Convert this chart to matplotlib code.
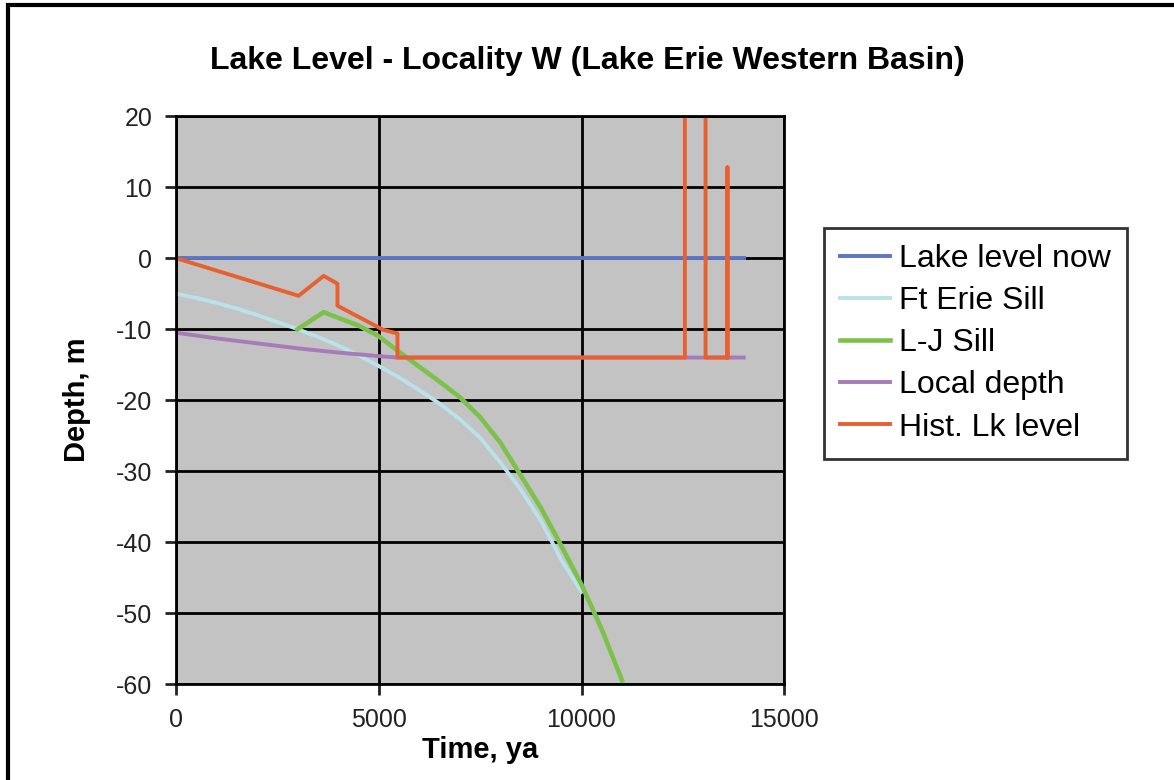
import matplotlib
matplotlib.use("Agg")
import matplotlib.pyplot as plt
import matplotlib.patches as pat

plt.rcParams['font.family'] = ['Liberation Sans', 'DejaVu Sans']
plt.rcParams['axes.unicode_minus'] = False

# data
now_x = [0, 14000]
now_y = [0, 0]

erie_x = [0, 500, 1000, 1500, 2000, 2500, 3000, 3500, 4000, 4500, 5000, 5500, 6000,
          6500, 7000, 7500, 8000, 8500, 9000, 9500, 10000]
erie_y = [-5, -5.6, -6.3, -7.1, -8, -9, -10, -11.1, -12.3, -13.7, -15.2, -16.8, -18.6,
          -20.5, -22.7, -25.3, -28.8, -32.6, -37, -42.5, -47]

lj_x = [3000, 3640, 4000, 4500, 5000, 5500, 6000, 6500, 7000, 7500, 8000, 8500,
        9000, 9500, 10000, 10500, 11000]
lj_y = [-10, -7.6, -8.4, -9.5, -11, -13.2, -15.3, -17.4, -19.6, -22.4, -26, -30.6,
        -35.2, -40.5, -46, -52.3, -59.5]

local_x = [0, 1000, 2000, 3000, 4000, 5000, 5450, 14000]
local_y = [-10.5, -11.3, -12, -12.7, -13.3, -13.8, -14, -14]

hist_x = [0, 3020, 3640, 3980, 3980, 5110, 5460, 5460, 12550, 12550, 13060, 13060, 13600, 13600, 13600]
hist_y = [0, -5.3, -2.5, -3.6, -6.7, -10.1, -10.6, -14, -14, 25, 25, -14, -14, 12.8, -14]

fig = plt.figure(figsize=(11.74, 7.80), dpi=100)
fig.patches.append(pat.Rectangle((0.007, -0.05), 1.05, 1.044, transform=fig.transFigure,
                                 fill=False, ec="k", lw=3))

ax = fig.add_axes([0.150, 0.123, 0.518, 0.728])
ax.set_facecolor("#c3c3c3")
ax.plot(now_x, now_y, color="#5b74c4", lw=2.8, label="Lake level now")
ax.plot(erie_x, erie_y, color="#b9e2ea", lw=2.8, label="Ft Erie Sill")
ax.plot(lj_x, lj_y, color="#7cc24a", lw=3.3, label="L-J Sill")
ax.plot(local_x, local_y, color="#a77ab8", lw=2.8, label="Local depth")
ax.plot(hist_x, hist_y, color="#e8602f", lw=2.8, label="Hist. Lk level")

ax.set_xlim(0, 15000)
ax.set_ylim(-60, 20)
ax.set_xticks([0, 5000, 10000, 15000])
ax.set_yticks(range(-60, 21, 10))
ax.grid(True, color="k", lw=2)
ax.set_axisbelow(True)
for s in ax.spines.values():
    s.set_linewidth(2)
ax.tick_params(labelsize=18, width=2, length=8, colors="#222222")
ax.tick_params(axis="y", pad=9)
ax.tick_params(axis="x", pad=9)

ax.set_xlabel("Time, ya", fontsize=21, fontweight="bold", labelpad=3)
ax.set_ylabel("Depth, m", fontsize=21, fontweight="bold", labelpad=18)
fig.text(0.50, 0.922, "Lake Level - Locality W (Lake Erie Western Basin)",
         ha="center", va="center", fontsize=23, fontweight="bold")

leg = ax.legend(loc="upper left", bbox_to_anchor=(1.066, 0.803), fontsize=23,
                frameon=True, fancybox=False, edgecolor="k", handlelength=1.55,
                handletextpad=0.3, labelspacing=0.38, borderpad=0.5, borderaxespad=0)
leg.get_frame().set_linewidth(2)

fig.savefig("out.png", dpi=100)
